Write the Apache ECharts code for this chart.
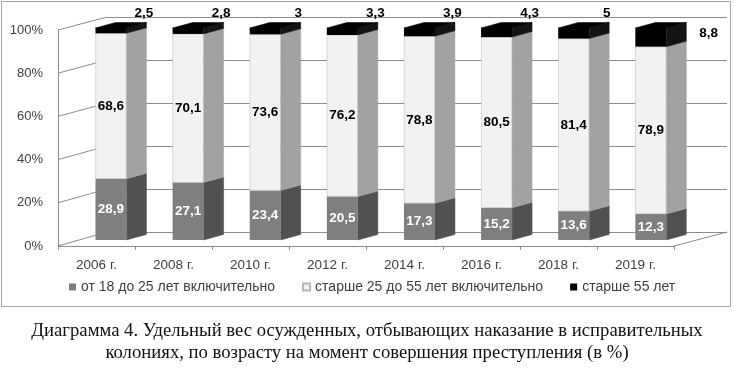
<!DOCTYPE html>
<html>
<head>
<meta charset="utf-8">
<script src="https://cdn.jsdelivr.net/npm/echarts@6/dist/echarts.min.js"></script>
<style>
  html, body { margin: 0; padding: 0; background: #fff; }
  #chart { width: 734px; height: 375px; }
</style>
</head>
<body>
<div id="chart"></div>
<script>
const years = ["2006 г.", "2008 г.", "2010 г.", "2012 г.", "2014 г.", "2016 г.", "2018 г.", "2019 г."];
const young = [28.9, 27.1, 23.4, 20.5, 17.3, 15.2, 13.6, 12.3];
const middle = [68.6, 70.1, 73.6, 76.2, 78.8, 80.5, 81.4, 78.9];
const older = [2.5, 2.8, 3, 3.3, 3.9, 4.3, 5, 8.8];
const seriesNames = ["от 18 до 25 лет включительно", "старше 25 до 55 лет включительно", "старше 55 лет"];
const yTicks = [0, 20, 40, 60, 80, 100];
const caption = [
  "Диаграмма 4. Удельный вес осужденных, отбывающих наказание в исправительных",
  "колониях, по возрасту на момент совершения преступления (в %)",
];

const FONT = "'Liberation Sans', Arial, sans-serif";
const CAPTION_FONT = "18.7px 'Liberation Serif', 'Times New Roman', serif";
const FRONT = ["#7f7f7f", "#f2f2f2", "#000000"];
const SIDE = ["#515151", "#a2a2a2", "#141414"];
const BAR_W = 31;
const DX = 20, DY = 5.5; // bar depth
const WALL_DX = 49, WALL_DY = 14; // floor / left wall depth

function fmt(v) {
  return String(v).replace(".", ",");
}

const myChart = echarts.init(document.getElementById("chart"));

// one row per year for the 3d sides
const sideData = years.map(function (y, i) {
  return [i, young[i], middle[i], older[i]];
});

var option = {
  animation: false,
  textStyle: { fontFamily: FONT },
  legend: {
    left: 64,
    top: 275,
    icon: "rect",
    itemWidth: 7,
    itemHeight: 7,
    itemGap: 27,
    textStyle: { fontSize: 14, color: "#404040", fontFamily: FONT },
    data: seriesNames,
  },
  grid: [
    // bar front plane
    { left: 72.4, top: 28, width: 617, height: 212 },
    // front edge (axis labels)
    { left: 58, top: 30, width: 616, height: 216 },
    // back wall
    { left: 107, top: 17, width: 620, height: 215 },
  ],
  xAxis: [
    { type: "category", gridIndex: 0, data: years, show: false },
    {
      type: "category",
      gridIndex: 1,
      data: years,
      axisLine: { lineStyle: { color: "#8c8c8c" } },
      axisTick: { show: true, length: 4, lineStyle: { color: "#8c8c8c" } },
      axisLabel: { fontSize: 13.5, color: "#404040", margin: 12, fontFamily: FONT },
    },
    { type: "category", gridIndex: 2, data: years, show: false },
  ],
  yAxis: [
    { type: "value", gridIndex: 0, min: 0, max: 100, show: false },
    {
      type: "value",
      gridIndex: 1,
      min: 0,
      max: 100,
      interval: 20,
      axisLine: { show: true, lineStyle: { color: "#8c8c8c" } },
      axisTick: { show: false },
      splitLine: { show: false },
      axisLabel: { fontSize: 13, color: "#404040", margin: 15, formatter: "{value}%", fontFamily: FONT },
    },
    {
      type: "value",
      gridIndex: 2,
      min: 0,
      max: 100,
      interval: 20,
      axisLine: { show: false },
      axisTick: { show: false },
      axisLabel: { show: false },
      splitLine: { show: true, lineStyle: { color: "#8c8c8c", width: 1 } },
    },
  ],
  graphic: [
    {
      type: "rect",
      shape: { x: 1.5, y: 1.5, width: 729, height: 305 },
      style: { fill: null, stroke: "#a6a6a6", lineWidth: 1 },
      z: -10,
    },
    {
      type: "text",
      left: "center",
      top: 322,
      style: { text: caption[0], font: CAPTION_FONT, fill: "#111" },
    },
    {
      type: "text",
      left: "center",
      top: 344,
      style: { text: caption[1], font: CAPTION_FONT, fill: "#111" },
    },
  ],
  series: [
    {
      // left wall lines + floor right edge
      type: "custom",
      xAxisIndex: 1,
      yAxisIndex: 1,
      z: 1,
      silent: true,
      data: yTicks.map(function (v) {
        return [0, v];
      }),
      renderItem: function (params, api) {
        var v = api.value(1);
        var p = api.coord([0, v]);
        var half = api.size([1, 0])[0] / 2;
        var x0 = p[0] - half;
        var children = [
          {
            type: "line",
            shape: { x1: x0, y1: p[1], x2: x0 + WALL_DX, y2: p[1] - WALL_DY + v * 0.01 },
            style: { stroke: "#8c8c8c", lineWidth: 1 },
          },
        ];
        if (v === 0) {
          var q = api.coord([years.length - 1, 0]);
          var x1 = q[0] + half;
          children.push({
            type: "line",
            shape: { x1: x1, y1: q[1], x2: x1 + WALL_DX + 4, y2: q[1] - WALL_DY },
            style: { stroke: "#8c8c8c", lineWidth: 1 },
          });
        }
        return { type: "group", children: children };
      },
    },
    {
      name: seriesNames[0],
      type: "bar",
      stack: "all",
      barWidth: BAR_W,
      z: 3,
      itemStyle: { color: FRONT[0] },
      label: {
        show: true,
        position: "inside",
        color: "#fff",
        fontWeight: "bold",
        fontSize: 13.5,
        fontFamily: FONT,
        formatter: function (p) {
          return fmt(p.value);
        },
      },
      data: young,
    },
    {
      name: seriesNames[1],
      type: "bar",
      stack: "all",
      barWidth: BAR_W,
      z: 3,
      itemStyle: { color: FRONT[1], borderColor: "#b5b5b5", borderWidth: 0.5 },
      label: {
        show: true,
        position: "inside",
        color: "#000",
        fontWeight: "bold",
        fontSize: 13.5,
        fontFamily: FONT,
        formatter: function (p) {
          return fmt(p.value);
        },
      },
      data: middle,
    },
    {
      name: seriesNames[2],
      type: "bar",
      stack: "all",
      barWidth: BAR_W,
      z: 3,
      itemStyle: { color: FRONT[2] },
      label: {
        show: true,
        color: "#000",
        fontWeight: "bold",
        fontSize: 13.5,
        fontFamily: FONT,
        formatter: function (p) {
          return fmt(p.value);
        },
      },
      // thin tops get their label above the bar, thick ones beside it
      data: older.map(function (v) {
        return {
          value: v,
          label: v < 6 ? { position: "top", offset: [33, -3] } : { position: "right", offset: [28, -4] },
        };
      }),
    },
    {
      // 3d side and top faces
      type: "custom",
      z: 3,
      silent: true,
      data: sideData,
      renderItem: function (params, api) {
        var i = api.value(0);
        var a = api.value(1), b = api.value(2), c = api.value(3);
        var bounds = [0, a, a + b, a + b + c];
        var half = BAR_W / 2;
        var children = [];
        for (var s = 0; s < 3; s++) {
          var lo = api.coord([i, bounds[s]]);
          var hi = api.coord([i, bounds[s + 1]]);
          var xr = lo[0] + half;
          children.push({
            type: "polygon",
            shape: { points: [[xr, lo[1]], [xr + DX, lo[1] - DY], [xr + DX, hi[1] - DY], [xr, hi[1]]] },
            style: { fill: SIDE[s], stroke: SIDE[s], lineWidth: 0.5 },
          });
        }
        var t = api.coord([i, bounds[3]]);
        var xl = t[0] - half;
        children.push({
          type: "polygon",
          shape: { points: [[xl, t[1]], [xl + DX, t[1] - DY], [xl + BAR_W + DX, t[1] - DY], [xl + BAR_W, t[1]]] },
          style: { fill: FRONT[2], stroke: FRONT[2], lineWidth: 0.5 },
        });
        return { type: "group", children: children };
      },
    },
  ],
};
myChart.setOption(option);
</script>
</body>
</html>
